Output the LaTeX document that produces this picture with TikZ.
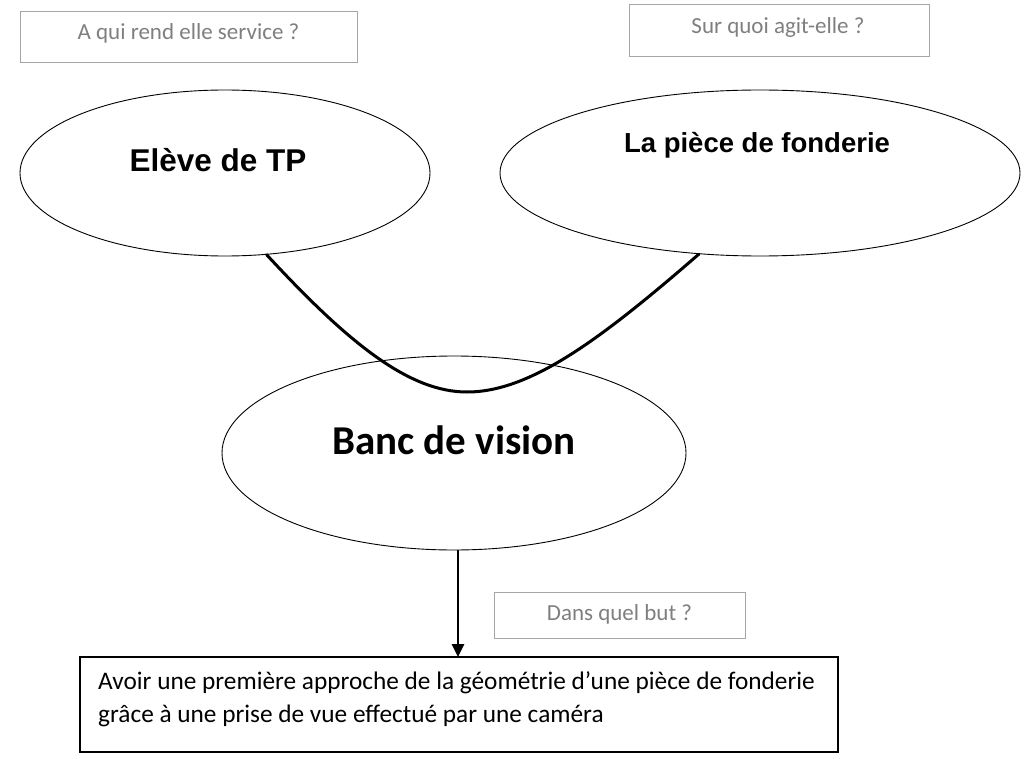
\documentclass[tikz,border=0pt]{standalone}
\usepackage{fontspec}
\setmainfont{Carlito}
\newfontfamily\arialb{Liberation Sans}
\usetikzlibrary{shapes.geometric,arrows.meta}
\definecolor{qgray}{HTML}{7F7F7F}
\definecolor{qborder}{HTML}{A6A6A6}
\tikzset{
  ell/.style={draw=black, line width=0.9pt, ellipse, inner sep=0pt},
  qbox/.style={draw=qborder, line width=0.9pt, inner sep=0pt},
  qtext/.style={text=qgray, font=\fontsize{23}{27}\selectfont, inner sep=0pt},
  link/.style={line width=3pt, line cap=round},
}
\begin{document}
\begin{tikzpicture}[x=1pt,y=-1pt]
\useasboundingbox (0,0) rectangle (1024,759);
% question boxes
\node[qbox, minimum width=337pt, minimum height=51pt] (q1) at (188.5,36.5) {};
\node[qtext] (q1t) at (188.5,33) {A qui rend elle service ?};
\node[qbox, minimum width=300pt, minimum height=52pt] (q2) at (779,30) {};
\node[qtext] (q2t) at (778,27) {Sur quoi agit-elle ?};
% ellipses
\node[ell, minimum width=410pt, minimum height=166pt] (e1) at (225,173) {};
\node[font=\arialb\bfseries\fontsize{31.5}{36}\selectfont, inner sep=0pt] (t1) at (218,160) {Elève de TP};
\node[ell, minimum width=520pt, minimum height=166pt] (e2) at (760,173) {};
\node[font=\arialb\bfseries\fontsize{27.5}{32}\selectfont, inner sep=0pt] (t2) at (757,145) {La pièce de fonderie};
% link curve
\coordinate (c1) at (e1.-63);
\coordinate (c2) at (e2.-127);
\coordinate (cm) at (467,392);
\draw[link] (c1) .. controls (350,345) and (410,392) .. (cm)
  .. controls (530,392) and (600,340) .. (c2);
% central ellipse
\node[ell, minimum width=464pt, minimum height=194pt] (e3) at (454,453) {};
\node[font=\bfseries\fontsize{41}{45}\selectfont, inner sep=0pt] (t3) at (454,440) {Banc de vision};
% goal box
\node[draw=black, line width=1.4pt, minimum width=758pt, minimum height=95pt, inner sep=0pt] (g) at (459,704.5) {};
\node[anchor=north west, align=left, inner sep=0pt, font=\fontsize{25.3}{33}\selectfont] (gt) at (98,671)
  {Avoir une première approche de la géométrie d’une pièce de fonderie\\grâce à une prise de vue effectué par une caméra};
\coordinate (ga) at (458,657);
\draw[line width=2.6pt, -{Triangle[length=13pt,width=12pt]}] (e3.south -| ga) -- (ga);
\node[qbox, minimum width=251pt, minimum height=46pt] (q3) at (619.5,615) {};
\node[qtext] (q3t) at (619.5,614) {Dans quel but ?};
\end{tikzpicture}
\end{document}
